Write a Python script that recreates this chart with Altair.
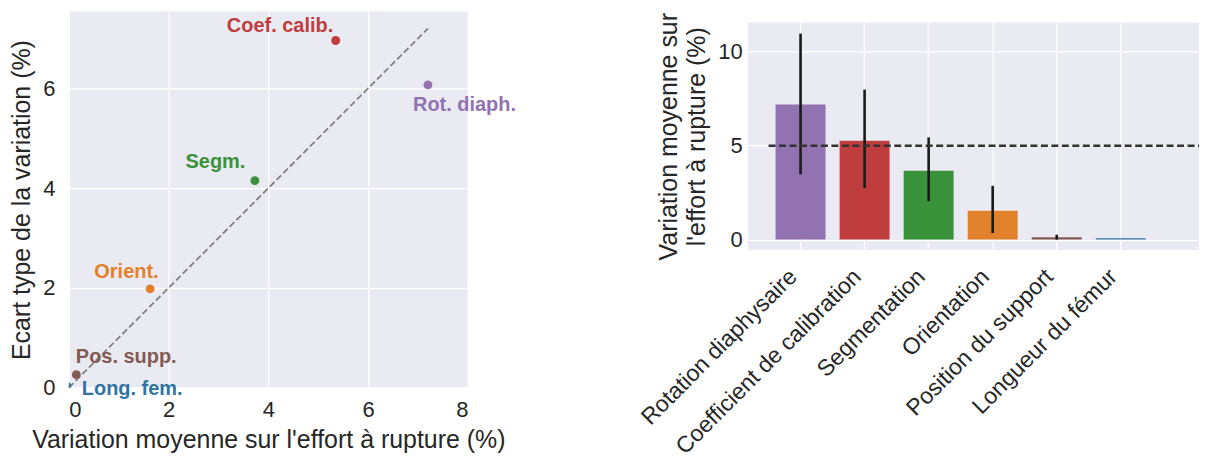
import altair as alt
import pandas as pd

# ---------------- data ----------------
short_labels = ["Rot. diaph.", "Coef. calib.", "Segm.", "Orient.", "Pos. supp.", "Long. fem."]
scatter_mean = [7.2, 5.35, 3.73, 1.63, 0.15, -0.04]
scatter_std = [6.07, 6.96, 4.15, 1.98, 0.26, 0.03]

categories = ["Rotation diaphysaire", "Coefficient de calibration", "Segmentation",
              "Orientation", "Position du support", "Longueur du fémur"]
bar_mean = [7.19, 5.26, 3.67, 1.54, 0.13, 0.07]
err_low = [3.47, 2.75, 2.05, 0.35, 0.0, 0.07]
err_high = [10.96, 7.98, 5.44, 2.86, 0.26, 0.07]
threshold = [5]

x_ticks = [0, 2, 4, 6, 8]
y_ticks = [0, 2, 4, 6]
bar_ticks = [0, 5, 10]

# ---------------- style ----------------
colors = ["#9372b2", "#c03d3e", "#3a923a", "#e1812c", "#845b53", "#3274a1"]
FONT = "Liberation Sans"
BG = "#EAEAF2"
TXT = "#262626"

label_style = {
    "Rot. diaph.": ("left", -15, 20),
    "Coef. calib.": ("right", -2.5, -15),
    "Segm.": ("right", -9.5, -18.5),
    "Orient.": ("right", 8.5, -17),
    "Pos. supp.": ("left", -0.5, -18),
    "Long. fem.": ("left", 15, 2.5),
}

# ---------------- left: scatter ----------------
sc_df = pd.DataFrame({"label": short_labels, "mean": scatter_mean, "std": scatter_std})
ref_df = pd.DataFrame({"v": [0, max(scatter_mean)]})

xs = alt.Scale(domain=[0, 8], nice=False, zero=False)
ys = alt.Scale(domain=[0, 7.54], nice=False, zero=False)
cs = alt.Scale(domain=short_labels, range=colors)

x_enc = alt.X("mean:Q", scale=xs,
              axis=alt.Axis(values=x_ticks, title="Variation moyenne sur l'effort à rupture (%)",
                            labelPadding=12, titlePadding=7))
y_enc = alt.Y("std:Q", scale=ys,
              axis=alt.Axis(values=y_ticks, title="Ecart type de la variation (%)",
                            labelPadding=14, titlePadding=8))

ref_line = alt.Chart(ref_df).mark_line(color="#808080", strokeWidth=1.8, strokeDash=[6.5, 3]).encode(
    x=alt.X("v:Q", scale=xs), y=alt.Y("v:Q", scale=ys))

points = alt.Chart(sc_df).mark_circle(size=80, opacity=1, clip=True).encode(
    x=x_enc, y=y_enc, color=alt.Color("label:N", scale=cs, legend=None))

texts = []
for lab in short_labels:
    al, dx, dy = label_style[lab]
    texts.append(
        alt.Chart(sc_df).transform_filter(alt.datum.label == lab).mark_text(
            align=al, baseline="middle", dx=dx, dy=dy, font=FONT, fontSize=20, fontWeight="bold"
        ).encode(x=alt.X("mean:Q", scale=xs), y=alt.Y("std:Q", scale=ys), text="label:N",
                 color=alt.Color("label:N", scale=cs, legend=None))
    )

left = alt.layer(ref_line, points, *texts).properties(
    width=400, height=377, view=alt.ViewBackground(fill=BG, strokeWidth=0))

# ---------------- right: bars ----------------
bar_df = pd.DataFrame({"cat": categories, "mean": bar_mean, "lo": err_low, "hi": err_high})
thr_df = pd.DataFrame({"cat": [categories[0]], "v": threshold})

bxs = alt.Scale(paddingInner=0.22, paddingOuter=0.63, align=0.34)
bys = alt.Scale(domain=[-0.55, 11.55], nice=False, zero=False)
bcs = alt.Scale(domain=categories, range=colors)

bars = alt.Chart(bar_df).mark_bar().encode(
    x=alt.X("cat:N", sort=categories, scale=bxs,
            axis=alt.Axis(title=None, labelAngle=-45, labelAlign="right", labelBaseline="top",
                          bandPosition=0.5, grid=True, labelPadding=15, labelOffset=-15,
                          labelLimit=0, labelFontSize=23)),
    y=alt.Y("mean:Q", scale=bys,
            axis=alt.Axis(values=bar_ticks, title=["Variation moyenne sur", "l'effort à rupture (%)"],
                          labelPadding=6, titlePadding=8, titleLineHeight=28)),
    color=alt.Color("cat:N", scale=bcs, legend=None),
)

errs = alt.Chart(bar_df).mark_rule(color="#1a1a1a", strokeWidth=2.6).encode(
    x=alt.X("cat:N", sort=categories, scale=bxs),
    y=alt.Y("lo:Q", scale=bys), y2="hi:Q")

hline = alt.Chart(thr_df).mark_rule(color="#333333", strokeWidth=2.5, strokeDash=[7, 3.5],
                                    xOffset=-7).encode(
    x=alt.X("cat:N", sort=categories, scale=bxs, bandPosition=0),
    x2=alt.value("width"),
    y=alt.Y("v:Q", scale=bys))

right_plot = alt.layer(bars, errs, hline).properties(
    width=452, height=228, view=alt.ViewBackground(fill=BG, strokeWidth=0))

spacer = alt.Chart(pd.DataFrame({"a": [0]})).mark_point(opacity=0).encode(
    x=alt.value(0), y=alt.value(0)).properties(
    width=452, height=11, view=alt.ViewBackground(fill="transparent", strokeWidth=0))

right = alt.vconcat(spacer, right_plot, spacing=0, bounds="flush")

chart = alt.hconcat(left, right, spacing=281, bounds="flush").properties(
    padding={"left": 1, "top": 0, "right": 0, "bottom": 0}
).configure(font=FONT).configure_axis(
    labelFont=FONT, titleFont=FONT, labelFontSize=22, titleFontSize=25,
    labelColor=TXT, titleColor=TXT, titleFontWeight="normal",
    domain=False, ticks=False, gridColor="white", gridWidth=1.2, gridOpacity=1,
).configure_view(strokeWidth=0)

chart.save("out.html", embed_options={"renderer": "svg", "actions": False})
